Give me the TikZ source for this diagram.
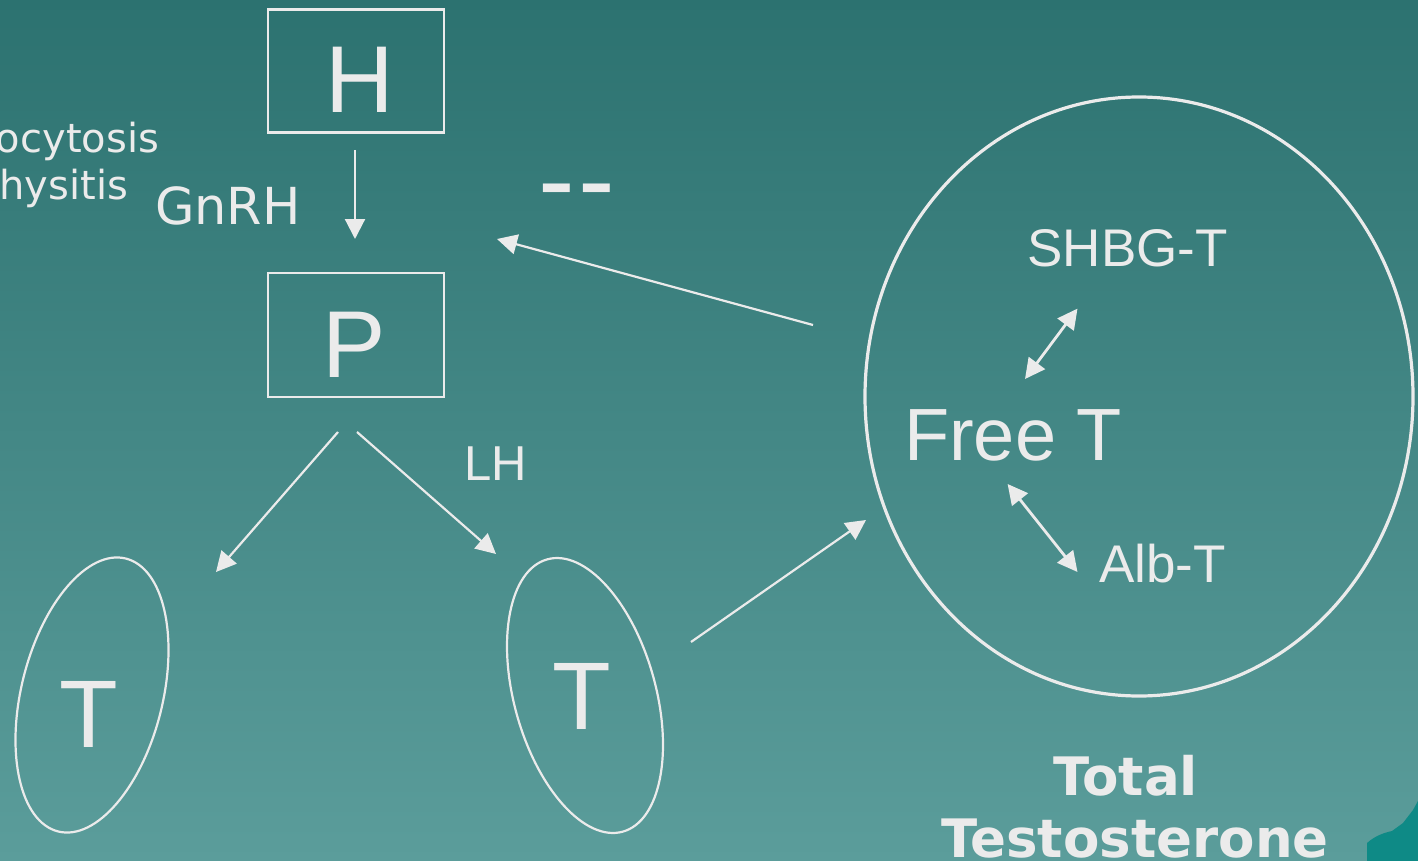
\documentclass[tikz,border=0pt]{standalone}
\usepackage{fontspec}
\newfontfamily\arialf{Liberation Sans}
\newfontfamily\verdf{DejaVu Sans}
\usetikzlibrary{arrows.meta,shapes.geometric}
\definecolor{bgtop}{RGB}{44,114,112}
\definecolor{bgbot}{RGB}{91,157,155}
\definecolor{ink}{RGB}{235,235,235}
\definecolor{cornerteal}{RGB}{14,138,134}
\tikzset{
  boxnode/.style={draw=ink, line width=2.4pt, minimum width=176pt, minimum height=123pt, inner sep=0pt},
  oval/.style={draw=ink, line width=2.2pt, ellipse, inner sep=0pt},
  txt/.style={text=ink, inner sep=0pt, outer sep=0pt},
  tipbig/.tip={Triangle[length=20pt 0, width=20pt 0]},
  arr/.style={draw=ink, line width=2.2pt, -tipbig},
  darr/.style={draw=ink, line width=2.8pt, tipbig-tipbig},
}
\begin{document}
\begin{tikzpicture}[x=1pt,y=-1pt]
\useasboundingbox (0,0) rectangle (1418,861);
\fill[top color=bgtop, bottom color=bgbot] (0,0) rectangle (1418,861);
% corner decoration
\fill[cornerteal] (1367,861) -- (1367,843) .. controls (1375,836) and (1383,833) .. (1392,831)
  -- (1403,823) -- (1413,810) -- (1418,801) -- (1418,861) -- cycle;

% clipped side text
\node[txt, anchor=base east, font=\verdf\fontsize{40}{40}\selectfont] (ocy) at (159,153) {ocytosis};
\node[txt, anchor=base east, font=\verdf\fontsize{40}{40}\selectfont] (hys) at (128,200) {hysitis};

% boxes
\node[boxnode] (H) at (356,71) {};
\node[txt, anchor=base, font=\arialf\fontsize{95}{95}\selectfont] (Ht) at (359.5,113) {H};
\node[boxnode, minimum height=124pt] (P) at (356,335) {};
\node[txt, anchor=base, font=\arialf\fontsize{95}{95}\selectfont] (Pt) at (354,377) {P};

\node[txt, anchor=base west, font=\verdf\fontsize{51}{51}\selectfont] (gnrh) at (155,224) {GnRH};
\node[txt, anchor=base west, font=\arialf\fontsize{49}{49}\selectfont] (lh) at (464,480) {LH};
\node[txt, anchor=base west, font=\arialf\fontsize{110}{110}\selectfont] (minus) at (538,217) {\hbox{-}\kern3.5pt\hbox{-}};

% testes
\node[oval, minimum width=141.4pt, minimum height=281.2pt, rotate=-13.9] (T1) at (92,695) {};
\node[txt, anchor=base, font=\arialf\fontsize{96}{96}\selectfont] (T1t) at (89,747) {T};
\node[oval, minimum width=141.6pt, minimum height=282.6pt, rotate=15.5] (T2) at (585,695.5) {};
\node[txt, anchor=base, font=\arialf\fontsize{96}{96}\selectfont] (T2t) at (582,729) {T};

% big circle
\node[draw=ink, line width=3.2pt, ellipse, inner sep=0pt, minimum width=548pt, minimum height=599pt] (C) at (1139,396.5) {};
\node[txt, anchor=base west, font=\arialf\fontsize{53}{53}\selectfont] (shbg) at (1027.5,266) {SHBG-T};
\node[txt, anchor=base west, font=\arialf\fontsize{74}{74}\selectfont] (free) at (904,460) {Free T};
\node[txt, anchor=base west, font=\arialf\fontsize{53}{53}\selectfont] (alb) at (1099,582) {Alb-T};

\node[txt, anchor=base, font=\verdf\bfseries\fontsize{53}{53}\selectfont] (total) at (1125.5,795) {Total};
\node[txt, anchor=base, font=\verdf\bfseries\fontsize{53}{53}\selectfont] (testo) at (1135,857) {Testosterone};

% connector ends
\coordinate (g1) at (355,150);
\coordinate (g2) at (355,239);
\coordinate (fb1) at (813,325);
\coordinate (fb2) at (497,239);
\coordinate (l1) at (338,432);
\coordinate (l2) at (216,572);
\coordinate (r1) at (357,432);
\coordinate (r2) at (496,554);
\coordinate (c1) at (691,642);
\coordinate (c2) at (866,520);
\coordinate (s1) at (1025,379);
\coordinate (s2) at (1077.5,308.6);
\coordinate (a1) at (1007.6,484);
\coordinate (a2) at (1077.5,572);

\draw[arr] (g1) -- (g2);
\draw[arr] (fb1) -- (fb2);
\draw[arr] (l1) -- (l2);
\draw[arr] (r1) -- (r2);
\draw[arr] (c1) -- (c2);
\draw[darr] (s1) -- (s2);
\draw[darr] (a1) -- (a2);
\end{tikzpicture}
\end{document}
